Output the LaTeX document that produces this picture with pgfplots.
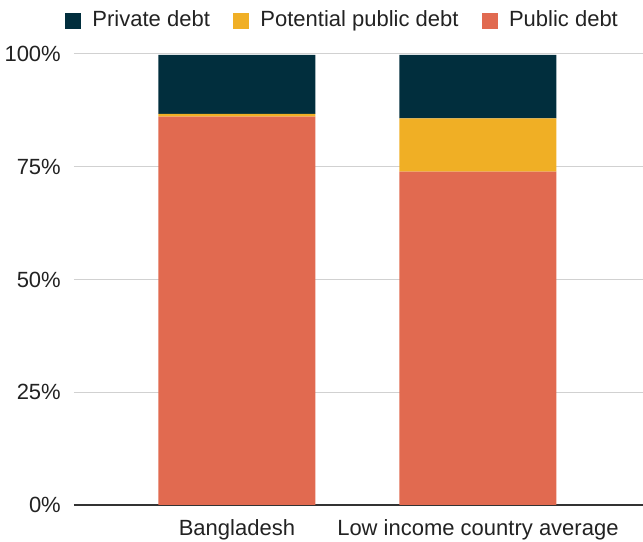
\documentclass[border=0pt]{standalone}
\usepackage{pgfplots}
\pgfplotsset{compat=1.18}
\usepackage{fontspec}
\setmainfont{Liberation Sans}
\definecolor{cpriv}{HTML}{012E3D}
\definecolor{cpot}{HTML}{F0AF25}
\definecolor{cpub}{HTML}{E16A50}
\definecolor{txt}{HTML}{222222}
\begin{document}
\begin{tikzpicture}
\begin{axis}[
  name=ax,
  scale only axis, width=569pt, height=451pt,
  ybar stacked, bar width=157pt,
  xmin=-0.676, xmax=1.685, ymin=0, ymax=100,
  xtick={0,1}, xticklabels={Bangladesh, Low income country average},
  ytick={0,25,50,75,100},
  yticklabel={\pgfmathprintnumber{\tick}\%},
  ymajorgrids, grid style={draw=black!18, line width=1pt},
  axis lines*=left,
  x axis line style={draw=black!80, line width=1.2pt, -},
  y axis line style={draw=none},
  major tick length=0pt, tick style={draw=none},
  tick label style={font=\fontsize{22}{26}\selectfont, text=txt, inner sep=0pt},
  yticklabel style={anchor=east, xshift=-13pt},
  xticklabel style={anchor=north, yshift=-14pt},
  /pgf/number format/assume math mode=true,
  legend style={at={(0,1)}, anchor=south west, xshift=-9pt, yshift=22.3pt,
    draw=none, fill=none, inner sep=0pt, outer sep=0pt,
    font=\fontsize{22}{26}\selectfont, text=txt,
    nodes={inner sep=0pt, text height=16pt, text depth=5pt},
    /tikz/every odd column/.append style={column sep=11pt},
    /tikz/every even column/.append style={column sep=23pt}},
  legend columns=3,
  legend cell align=left,
  reverse legend,
  legend image code/.code={\fill[#1] (0pt,-7.5pt) rectangle (16.5pt,8.5pt);},
]
\addplot[fill=cpub, draw=none] coordinates {(0,86.1) (1,73.9)};
\addlegendentry{Public debt}
\addplot[fill=cpot, draw=none] coordinates {(0,0.6) (1,11.8)};
\addlegendentry{Potential public debt}
\addplot[fill=cpriv, draw=none] coordinates {(0,13.1) (1,14.1)};
\addlegendentry{Private debt}
\end{axis}
\pgfresetboundingbox
\path ([shift={(-74pt,-37pt)}]ax.south west) rectangle ([shift={(0pt,54pt)}]ax.north east);
\end{tikzpicture}
\end{document}
